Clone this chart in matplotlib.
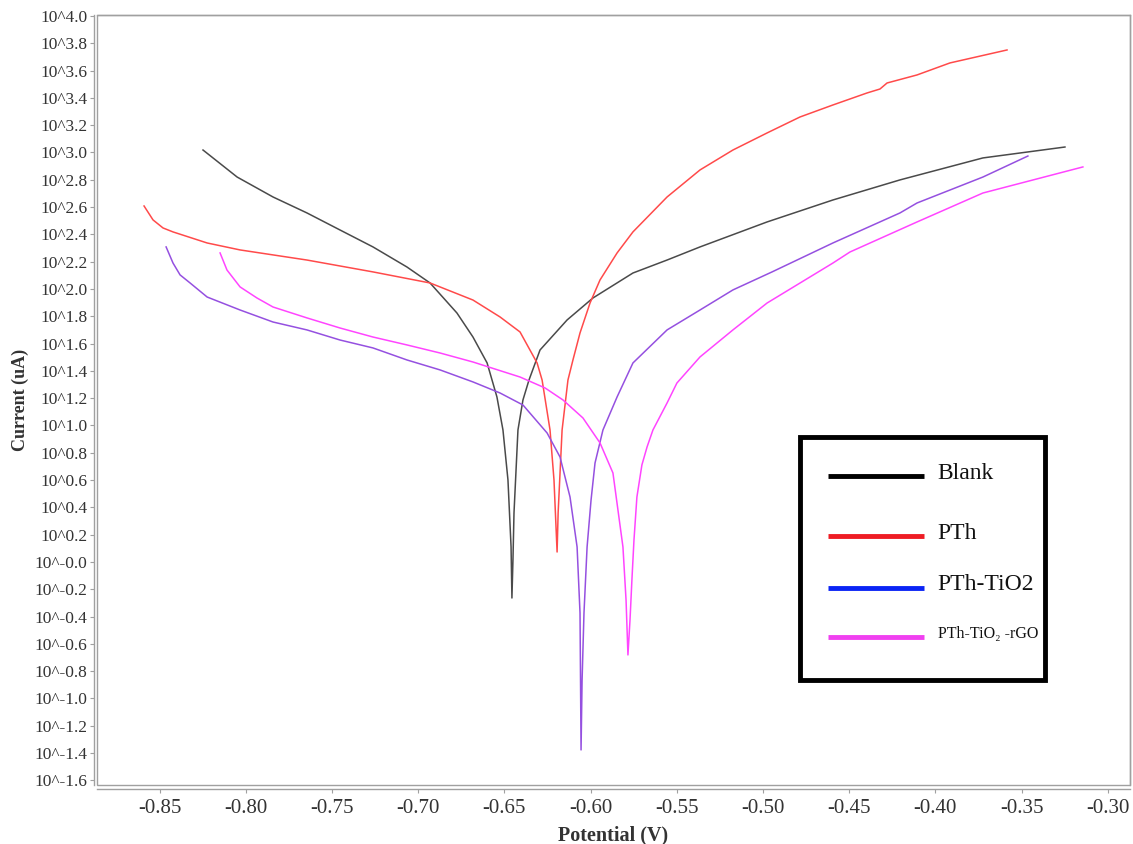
import matplotlib
matplotlib.use("Agg")
import matplotlib.pyplot as plt
from matplotlib.patches import Rectangle
from matplotlib.lines import Line2D

# potential (V) and log10(current / uA)
blank_v = [-0.8248, -0.8050, -0.7842, -0.7645, -0.7453, -0.7262, -0.7065, -0.6931,
           -0.6775, -0.6682, -0.6600, -0.6543, -0.6508, -0.6479, -0.6461, -0.6456,
           -0.6450, -0.6444, -0.6421, -0.6392, -0.6357, -0.6293, -0.6136, -0.5986,
           -0.5754, -0.5556, -0.5365, -0.4976, -0.4594, -0.4205, -0.3724, -0.3248]
blank_logi = [3.018, 2.820, 2.674, 2.557, 2.432, 2.308, 2.161, 2.044,
              1.824, 1.648, 1.458, 1.209, 0.967, 0.601, 0.110, -0.264,
              0.015, 0.359, 0.967, 1.187, 1.333, 1.553, 1.773, 1.934,
              2.117, 2.212, 2.308, 2.491, 2.652, 2.799, 2.960, 3.040]

pth_v = [-0.8590, -0.8538, -0.8480, -0.8422, -0.8224, -0.8033, -0.7645, -0.7262,
         -0.6931, -0.6682, -0.6525, -0.6409, -0.6310, -0.6281, -0.6235, -0.6212,
         -0.6194, -0.6188, -0.6165, -0.6131, -0.6102, -0.6061, -0.6003, -0.5945,
         -0.5846, -0.5754, -0.5556, -0.5365, -0.5174, -0.4976, -0.4785, -0.4594,
         -0.4396, -0.4321, -0.4280, -0.4106, -0.3915, -0.3584]
pth_logi = [2.608, 2.506, 2.447, 2.418, 2.337, 2.286, 2.212, 2.125,
            2.044, 1.919, 1.795, 1.685, 1.458, 1.333, 0.967, 0.601,
            0.073, 0.359, 0.967, 1.333, 1.480, 1.678, 1.897, 2.066,
            2.264, 2.418, 2.674, 2.872, 3.018, 3.143, 3.260, 3.348,
            3.436, 3.465, 3.509, 3.568, 3.656, 3.751]

tio2_v = [-0.8462, -0.8422, -0.8381, -0.8323, -0.8224, -0.8033, -0.7842, -0.7645,
          -0.7453, -0.7262, -0.7065, -0.6873, -0.6682, -0.6525, -0.6392, -0.6252,
          -0.6177, -0.6119, -0.6078, -0.6061, -0.6055, -0.6049, -0.6038, -0.6020,
          -0.5997, -0.5974, -0.5928, -0.5846, -0.5754, -0.5556, -0.5365, -0.5174,
          -0.4947, -0.4594, -0.4205, -0.4106, -0.3724, -0.3463]
tio2_logi = [2.308, 2.190, 2.103, 2.044, 1.941, 1.846, 1.758, 1.700,
             1.626, 1.568, 1.480, 1.407, 1.319, 1.238, 1.150, 0.945,
             0.769, 0.476, 0.110, -0.374, -1.377, -0.865, -0.374, 0.110,
             0.454, 0.725, 0.967, 1.209, 1.458, 1.700, 1.846, 1.993,
             2.125, 2.337, 2.557, 2.630, 2.820, 2.974]

rgo_v = [-0.8149, -0.8109, -0.8033, -0.7935, -0.7842, -0.7645, -0.7453, -0.7262,
         -0.7065, -0.6873, -0.6682, -0.6409, -0.6264, -0.6160, -0.6044, -0.5945,
         -0.5870, -0.5812, -0.5794, -0.5783, -0.5771, -0.5760, -0.5748, -0.5731,
         -0.5702, -0.5672, -0.5638, -0.5556, -0.5499, -0.5365, -0.5174, -0.4976,
         -0.4594, -0.4495, -0.4106, -0.3724, -0.3144]
rgo_logi = [2.264, 2.139, 2.015, 1.934, 1.868, 1.788, 1.714, 1.648,
            1.590, 1.531, 1.465, 1.355, 1.275, 1.187, 1.055, 0.872,
            0.652, 0.110, -0.278, -0.681, -0.425, -0.132, 0.161, 0.476,
            0.711, 0.843, 0.967, 1.165, 1.311, 1.502, 1.700, 1.897,
            2.190, 2.271, 2.491, 2.703, 2.894]

x_ticks = [-0.85, -0.80, -0.75, -0.70, -0.65, -0.60, -0.55, -0.50, -0.45, -0.40, -0.35, -0.30]
x_tick_labels = ["-0.85", "-0.80", "-0.75", "-0.70", "-0.65", "-0.60",
                 "-0.55", "-0.50", "-0.45", "-0.40", "-0.35", "-0.30"]
y_ticks = [4.0, 3.8, 3.6, 3.4, 3.2, 3.0, 2.8, 2.6, 2.4, 2.2, 2.0, 1.8, 1.6, 1.4, 1.2,
           1.0, 0.8, 0.6, 0.4, 0.2, 0.0, -0.2, -0.4, -0.6, -0.8, -1.0, -1.2, -1.4, -1.6]
y_tick_labels = ["10^4.0", "10^3.8", "10^3.6", "10^3.4", "10^3.2", "10^3.0", "10^2.8",
                 "10^2.6", "10^2.4", "10^2.2", "10^2.0", "10^1.8", "10^1.6", "10^1.4",
                 "10^1.2", "10^1.0", "10^0.8", "10^0.6", "10^0.4", "10^0.2", "10^-0.0",
                 "10^-0.2", "10^-0.4", "10^-0.6", "10^-0.8", "10^-1.0", "10^-1.2",
                 "10^-1.4", "10^-1.6"]

curve_colors = ["#4a4a4a", "#ff4a4a", "#9550e0", "#ff45ff"]
legend_labels = ["Blank", "PTh", "PTh-TiO2", "PTh-TiO\u2082 -rGO"]
legend_colors = ["#000000", "#ee1c24", "#0a24f5", "#f040f0"]
legend_sizes = [17, 17, 17, 11.5]

SERIF = ["Liberation Serif", "DejaVu Serif"]
FRAME = "#a0a0a0"


def main():
    plt.rcParams["font.family"] = SERIF

    fig = plt.figure(figsize=(11.33, 8.44), dpi=100)
    ax = fig.add_axes([0.0856, 0.0699, 0.9117, 0.9123])

    series = [(blank_v, blank_logi), (pth_v, pth_logi), (tio2_v, tio2_logi), (rgo_v, rgo_logi)]
    for (xs, ys), color in zip(series, curve_colors):
        ax.plot(xs, ys, color=color, linewidth=1.1, solid_joinstyle="round")

    ax.set_xlim(-0.8863, -0.2871)
    ax.set_ylim(-1.634, 4.007)

    ax.set_xticks(x_ticks)
    ax.set_xticklabels(x_tick_labels)
    ax.set_yticks(y_ticks)
    ax.set_yticklabels(y_tick_labels)
    ax.tick_params(axis="both", direction="out", length=3, width=0.8, color=FRAME,
                   labelcolor="#333333")
    ax.tick_params(axis="x", labelsize=15, pad=4)
    ax.tick_params(axis="y", labelsize=12.5, pad=2)

    for side in ["top", "right", "left", "bottom"]:
        ax.spines[side].set_color(FRAME)
        ax.spines[side].set_linewidth(1.0)
    ax.spines["left"].set_position(("outward", 2))
    ax.spines["bottom"].set_position(("outward", 3))
    ax.add_patch(Rectangle((0, 0), 1, 1, transform=ax.transAxes, fill=False,
                           edgecolor=FRAME, linewidth=1.0, clip_on=False))

    ax.set_xlabel("Potential (V)", fontsize=14.5, fontweight="bold", color="#333333")
    ax.xaxis.set_label_coords(0.5, -0.052)
    ax.set_ylabel("Current (uA)", fontsize=13, fontweight="bold", color="#333333")
    ax.yaxis.set_label_coords(-0.0658, 0.5)

    # legend box drawn by hand to match the pasted legend
    ax.add_patch(Rectangle((0.681, 0.136), 0.237, 0.316, transform=ax.transAxes,
                           fill=False, edgecolor="black", linewidth=3.5, zorder=5))
    row_y = [0.401, 0.323, 0.256, 0.192]
    for y, label, color, size in zip(row_y, legend_labels, legend_colors, legend_sizes):
        ax.add_line(Line2D([0.708, 0.801], [y, y], transform=ax.transAxes,
                           color=color, linewidth=3.5, solid_capstyle="butt", zorder=6))
        ax.text(0.814, y + 0.004, label, transform=ax.transAxes, fontsize=size,
                va="center", ha="left", color="#111111", family=SERIF, zorder=6)

    fig.savefig("out.png", dpi=100)
    plt.close(fig)


if __name__ == "__main__":
    main()
